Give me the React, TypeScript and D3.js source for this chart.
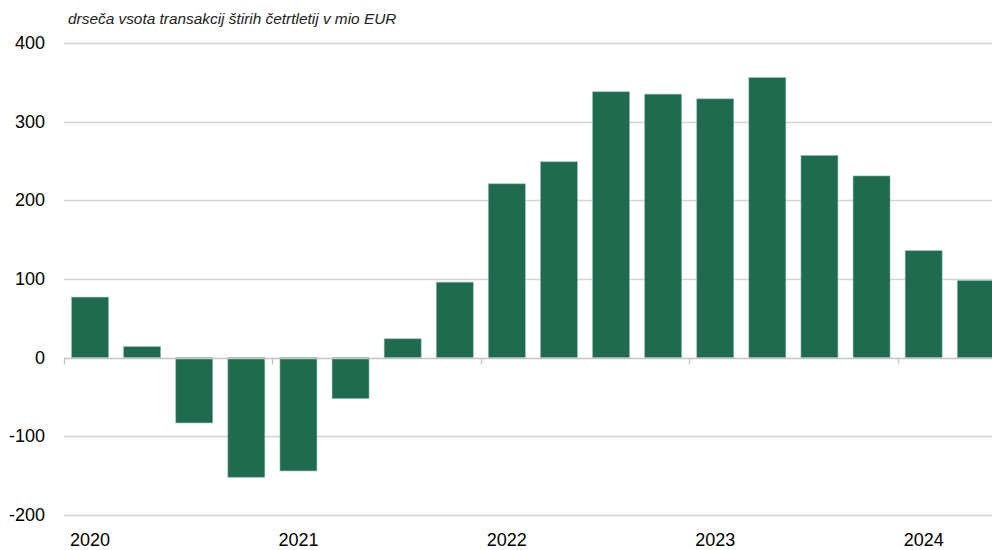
import React, { useRef, useEffect } from 'react';
import * as d3 from 'd3';

// quarterly values, 2020Q1 .. 2024Q2
const quarters = [
  '2020Q1', '2020Q2', '2020Q3', '2020Q4',
  '2021Q1', '2021Q2', '2021Q3', '2021Q4',
  '2022Q1', '2022Q2', '2022Q3', '2022Q4',
  '2023Q1', '2023Q2', '2023Q3', '2023Q4',
  '2024Q1', '2024Q2',
];
const values = [77, 14, -83, -152, -144, -52, 24, 96, 221, 249, 338, 335, 329, 356, 257, 231, 136, 98];
const yTicks = [-200, -100, 0, 100, 200, 300, 400];
const years = ['2020', '2021', '2022', '2023', '2024'];
const title = 'drseča vsota transakcij štirih četrtletij v mio EUR';

const W = 992;
const H = 550;
const barColor = '#206b50';

const App = () => {
  const ref = useRef<SVGSVGElement | null>(null);

  useEffect(() => {
    const svg = d3.select(ref.current);
    svg.selectAll('*').remove();

    const left = 64;
    const step = 52.1;
    const x = d3.scaleBand()
      .domain(quarters)
      .range([left, left + step * quarters.length])
      .paddingInner(0.29)
      .paddingOuter(0.145);

    const y = d3.scaleLinear().domain([-200, 400]).range([515, 43]);

    const font = '"Liberation Sans", Arial, sans-serif';

    // gridlines
    svg.append('g')
      .selectAll('line')
      .data(yTicks.filter(d => d !== 0))
      .enter().append('line')
      .attr('x1', left)
      .attr('x2', W)
      .attr('y1', d => Math.round(y(d)) + 0.5)
      .attr('y2', d => Math.round(y(d)) + 0.5)
      .style('stroke', '#d4d4d4')
      .style('stroke-width', 1.3);

    // y labels
    svg.append('g')
      .selectAll('text')
      .data(yTicks)
      .enter().append('text')
      .attr('x', 45)
      .attr('y', d => y(d) + 6)
      .attr('text-anchor', 'end')
      .style('font-family', font)
      .style('font-size', '18px')
      .style('fill', '#000')
      .text(d => d);

    // bars
    svg.append('g')
      .selectAll('rect')
      .data(values)
      .enter().append('rect')
      .attr('x', (d, i) => x(quarters[i]))
      .attr('width', x.bandwidth())
      .attr('y', d => y(Math.max(0, d)))
      .attr('height', d => Math.abs(y(d) - y(0)))
      .style('fill', barColor)
      .style('stroke', '#8fbfad')
      .style('stroke-width', 0.6);

    // zero axis with year ticks
    const y0 = Math.round(y(0)) + 0.5;
    svg.append('line')
      .attr('x1', left)
      .attr('x2', W)
      .attr('y1', y0)
      .attr('y2', y0)
      .style('stroke', '#c4c4c4')
      .style('stroke-width', 1.3);

    svg.append('g')
      .selectAll('line')
      .data(years)
      .enter().append('line')
      .attr('x1', (d, i) => Math.round(x(quarters[i * 4])! - x.step() * x.paddingOuter()) + 0.5)
      .attr('x2', (d, i) => Math.round(x(quarters[i * 4])! - x.step() * x.paddingOuter()) + 0.5)
      .attr('y1', y0)
      .attr('y2', y0 + 6)
      .style('stroke', '#c4c4c4')
      .style('stroke-width', 1.3);

    // year labels under first quarter
    svg.append('g')
      .selectAll('text')
      .data(years)
      .enter().append('text')
      .attr('x', (d, i) => x(quarters[i * 4])! + x.bandwidth() / 2)
      .attr('y', 546)
      .attr('text-anchor', 'middle')
      .style('font-family', font)
      .style('font-size', '18px')
      .style('fill', '#000')
      .text(d => d);

    svg.append('text')
      .attr('x', 68)
      .attr('y', 24)
      .style('font-family', font)
      .style('font-style', 'italic')
      .style('font-size', '15.4px')
      .style('fill', '#222')
      .text(title);
  }, []);

  return (
    <svg
      ref={ref}
      width={W}
      height={H}
      style={{ position: 'absolute', left: 0, top: 0, background: '#fff' }}
    />
  );
};

export default App;
